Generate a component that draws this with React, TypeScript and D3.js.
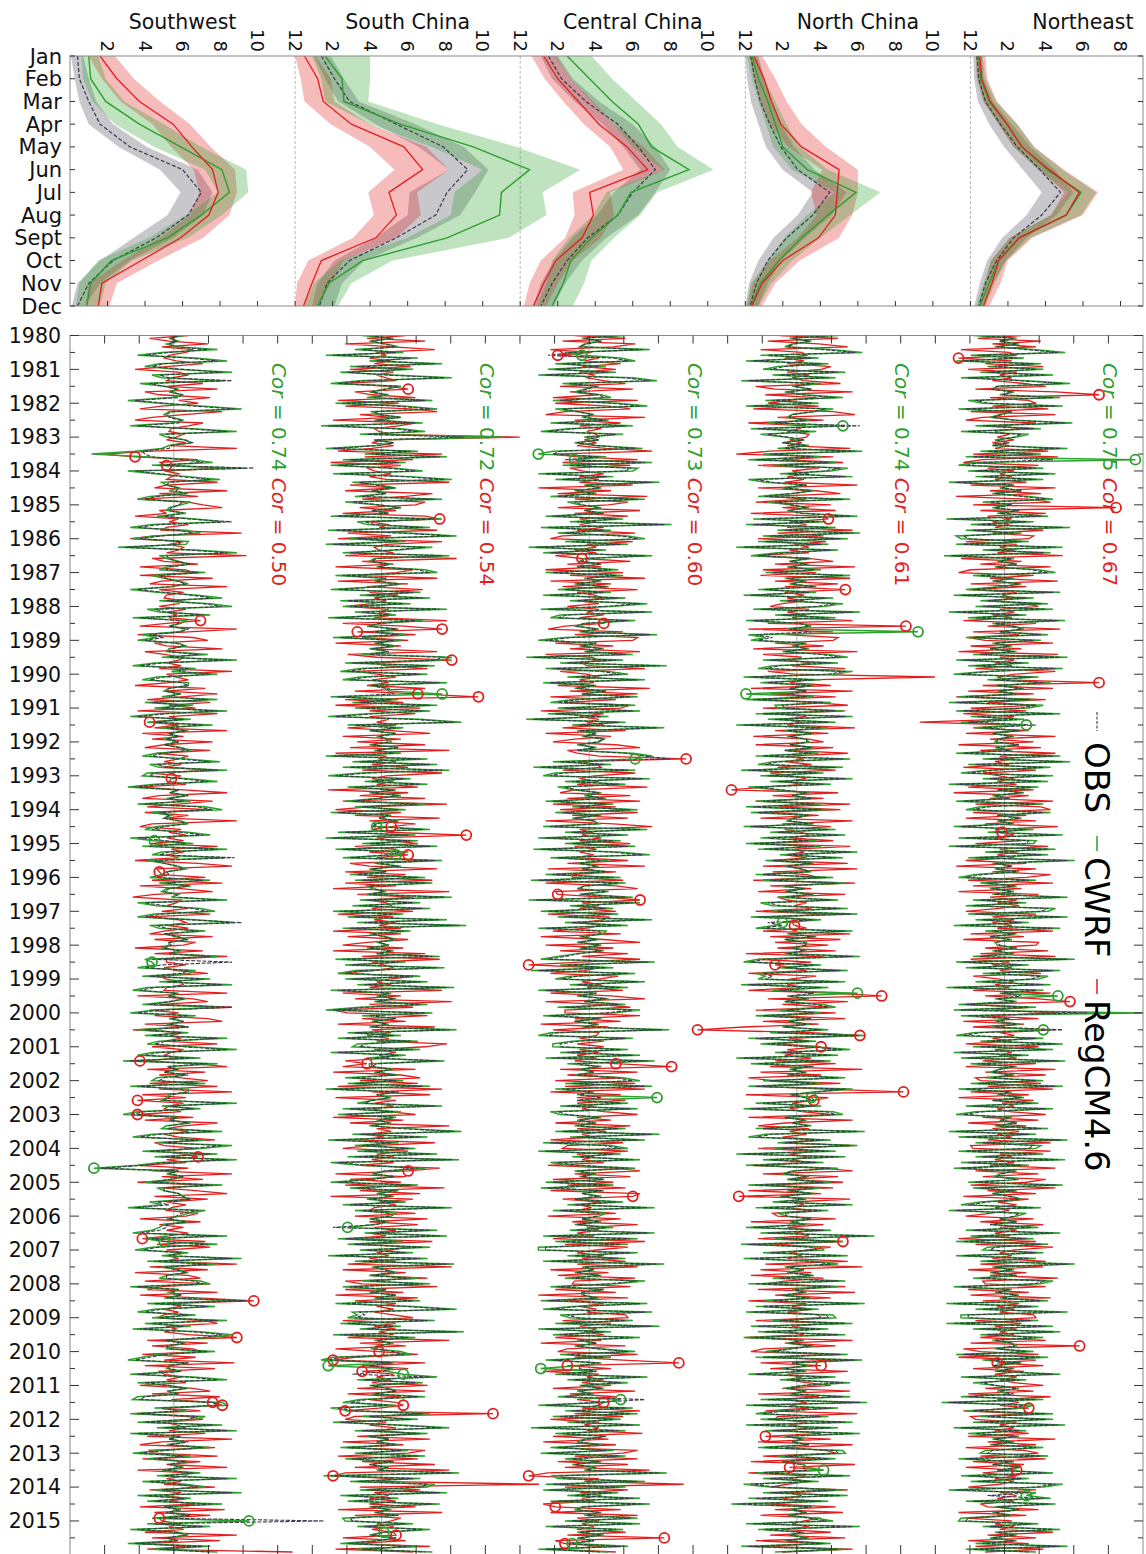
import React, { useEffect, useRef } from 'react';
import * as d3 from 'd3';

const W = 1146;
const H = 1554;

const months = ['Jan', 'Feb', 'Mar', 'Apr', 'May', 'Jun', 'Jul', 'Aug', 'Sept', 'Oct', 'Nov', 'Dec'];
const regions = ['Southwest', 'South China', 'Central China', 'North China', 'Northeast'];
const corCwrf = ['0.74', '0.72', '0.73', '0.74', '0.75'];
const corReg = ['0.50', '0.54', '0.60', '0.61', '0.67'];
const years = d3.range(1980, 2016);

// monthly climatology (mm/day): mean, lower and upper band, per region and model
const swObs = [0.4, 0.5, 1.0, 1.6, 3.2, 6.0, 7.0, 6.3, 4.6, 2.3, 1.0, 0.4];
const swObsLo = [0.05, 0.25, 0.5, 1.0, 2.6, 4.8, 5.9, 5.2, 3.4, 1.6, 0.4, 0.1];
const swObsHi = [0.7, 1.0, 1.4, 2.3, 4.1, 6.8, 7.6, 7.1, 5.5, 3.2, 1.6, 0.8];
const swCwrf = [1.0, 1.1, 1.9, 3.7, 5.9, 8.1, 8.5, 7.0, 5.2, 2.2, 1.1, 0.9];
const swCwrfLo = [0.6, 0.7, 1.2, 2.4, 4.5, 7.2, 7.9, 6.2, 4.2, 1.5, 0.5, 0.3];
const swCwrfHi = [1.5, 1.9, 2.9, 5.0, 7.0, 9.4, 9.5, 8.1, 6.3, 3.3, 1.9, 1.6];
const swReg = [1.6, 2.5, 3.7, 5.5, 6.5, 7.6, 7.9, 7.4, 5.9, 3.8, 1.7, 1.5];
const swRegLo = [1.0, 1.7, 2.7, 4.4, 5.4, 6.6, 6.9, 6.4, 4.8, 2.8, 1.0, 0.8];
const swRegHi = [2.4, 3.4, 4.8, 6.4, 7.5, 8.8, 8.9, 8.5, 7.1, 4.7, 2.5, 2.1];

const scObs = [1.4, 2.1, 2.9, 5.4, 7.9, 9.2, 8.1, 7.5, 5.4, 2.9, 1.7, 1.3];
const scObsLo = [1.0, 1.6, 2.3, 4.3, 6.6, 8.2, 6.1, 6.0, 4.3, 2.1, 1.2, 0.9];
const scObsHi = [1.9, 2.6, 3.4, 6.4, 9.0, 10.3, 9.6, 8.8, 6.5, 3.7, 2.5, 2.1];
const scCwrf = [1.6, 2.5, 2.6, 5.6, 9.5, 12.5, 11.0, 10.9, 8.1, 3.6, 1.8, 1.2];
const scCwrfLo = [0.9, 1.4, 1.6, 4.0, 7.3, 10.0, 8.5, 8.3, 6.0, 2.4, 1.0, 0.5];
const scCwrfHi = [4.0, 4.0, 3.9, 7.6, 11.8, 15.2, 13.2, 13.4, 11.4, 5.2, 3.0, 2.3];
const scReg = [0.5, 1.2, 1.5, 3.0, 5.8, 6.8, 5.0, 5.4, 4.3, 1.4, 0.9, 0.45];
const scRegLo = [0.0, 0.3, 0.5, 1.9, 4.0, 5.3, 3.9, 4.2, 3.1, 0.7, 0.1, 0.0];
const scRegHi = [1.1, 1.9, 2.1, 4.0, 7.0, 8.2, 6.5, 6.7, 5.4, 2.6, 1.9, 1.2];

const ccObs = [1.5, 2.2, 3.5, 5.2, 6.3, 7.2, 6.0, 5.2, 3.6, 2.5, 1.7, 1.1];
const ccObsLo = [1.1, 1.7, 2.9, 4.4, 5.5, 6.4, 5.0, 4.1, 2.8, 1.8, 1.1, 0.7];
const ccObsHi = [2.0, 2.8, 4.2, 6.0, 7.2, 8.0, 7.2, 6.3, 4.6, 3.3, 2.4, 1.8];
const ccCwrf = [2.5, 3.7, 4.9, 6.3, 7.0, 9.0, 5.9, 5.2, 3.8, 2.7, 2.3, 1.7];
const ccCwrfLo = [1.8, 2.7, 3.8, 5.0, 6.0, 7.6, 4.6, 3.9, 2.6, 1.7, 1.4, 0.9];
const ccCwrfHi = [3.8, 4.9, 6.2, 7.5, 8.4, 10.3, 7.3, 6.4, 5.0, 3.8, 3.4, 2.8];
const ccReg = [1.25, 2.0, 3.1, 4.2, 5.7, 6.8, 3.7, 3.9, 3.3, 1.9, 1.25, 0.7];
const ccRegLo = [0.6, 1.3, 2.3, 3.4, 4.8, 5.5, 2.8, 2.9, 2.4, 1.1, 0.5, 0.2];
const ccRegHi = [1.9, 2.7, 3.9, 5.0, 6.6, 7.7, 4.8, 5.0, 4.3, 2.8, 2.0, 1.4];

const ncObs = [0.3, 0.5, 0.8, 1.3, 1.9, 2.8, 4.5, 3.6, 2.2, 1.2, 0.6, 0.25];
const ncObsLo = [0.0, 0.1, 0.3, 0.7, 1.1, 2.0, 3.6, 2.8, 1.5, 0.7, 0.2, 0.0];
const ncObsHi = [0.7, 1.0, 1.4, 1.9, 2.6, 3.7, 5.4, 4.6, 3.2, 1.9, 1.2, 0.7];
const ncCwrf = [0.35, 0.7, 1.2, 1.6, 2.0, 3.3, 5.9, 4.4, 3.0, 1.8, 0.8, 0.3];
const ncCwrfLo = [0.1, 0.35, 0.7, 1.1, 1.5, 2.5, 4.8, 3.3, 2.1, 1.2, 0.3, 0.05];
const ncCwrfHi = [0.6, 1.0, 1.6, 2.2, 2.9, 4.4, 7.2, 5.6, 4.0, 2.5, 1.4, 0.7];
const ncReg = [0.45, 1.0, 1.4, 1.9, 3.0, 5.0, 4.9, 4.8, 3.9, 2.0, 0.9, 0.35];
const ncRegLo = [0.2, 0.5, 0.8, 1.3, 2.3, 4.1, 3.5, 3.8, 2.8, 1.3, 0.4, 0.1];
const ncRegHi = [0.9, 1.6, 2.2, 3.0, 4.3, 6.0, 6.0, 5.7, 5.0, 2.9, 1.6, 0.9];

const neObs = [0.35, 0.45, 0.8, 1.6, 2.5, 3.7, 4.8, 3.8, 2.3, 1.4, 0.8, 0.45];
const neObsLo = [0.15, 0.2, 0.4, 1.0, 1.8, 2.8, 3.8, 3.0, 1.7, 0.9, 0.5, 0.2];
const neObsHi = [0.6, 0.7, 1.2, 2.2, 3.2, 4.5, 5.5, 4.6, 3.0, 1.9, 1.2, 0.7];
const neCwrf = [0.45, 0.55, 1.0, 1.95, 2.75, 4.1, 5.9, 5.1, 2.6, 1.5, 1.0, 0.5];
const neCwrfLo = [0.3, 0.35, 0.7, 1.5, 2.3, 3.6, 5.2, 4.3, 2.1, 1.1, 0.7, 0.3];
const neCwrfHi = [0.65, 0.8, 1.4, 2.5, 3.4, 4.9, 6.7, 5.9, 3.2, 1.9, 1.3, 0.8];
const neReg = [0.5, 0.6, 1.05, 1.95, 2.75, 4.2, 5.8, 5.1, 2.6, 1.5, 1.15, 0.7];
const neRegLo = [0.3, 0.35, 0.7, 1.5, 2.3, 3.7, 5.0, 4.3, 2.1, 1.1, 0.8, 0.4];
const neRegHi = [0.8, 0.9, 1.4, 2.5, 3.4, 5.0, 6.8, 6.0, 3.3, 2.0, 1.6, 1.0];

// monthly anomalies Jan 1980 - Dec 2015, stored in steps of TS_UNIT mm/day (one row per year)
const TS_UNIT = 0.14;

const swObsTs = [
2,-1,1,-2,1,14,-2,-12,6,18,-4,-9,
4,20,-6,-2,24,-10,-4,1,-1,3,2,-16,
-3,8,25,-1,-3,-2,3,2,-15,5,22,-3,
-2,4,8,-1,-2,-13,-12,-9,4,12,-6,33,
-16,-5,3,15,-2,-3,2,1,5,-7,-12,4,
2,-1,-2,4,-4,6,24,-6,-15,2,8,-5,
-14,3,2,-20,6,22,-3,-2,1,7,-2,-3,
10,-6,-3,1,5,-2,-15,-4,7,16,-3,12,
20,-8,-3,12,-14,2,2,-2,6,3,-10,-4,
-12,1,4,-1,-2,10,-2,22,-5,-14,6,2,
15,-4,-10,3,6,-2,-3,2,-2,14,-9,5,
-5,18,-3,-15,4,-8,12,-3,5,-2,2,-3,
2,-4,2,6,-4,-10,2,15,-7,-3,18,-8,
-10,3,14,-5,-16,2,-2,6,-2,4,-12,10,
16,-6,-2,-4,2,5,-4,-9,3,12,-15,-3,
5,-10,18,-2,-6,25,-8,-4,1,4,-3,-2,
-7,12,-3,6,-2,-4,1,2,18,-12,-4,8,
14,-5,-12,6,28,-7,-3,10,-4,2,5,-2,
-1,-4,2,-2,15,-9,24,-5,-12,6,3,-10,
12,-3,20,-8,-14,1,-2,4,-2,-10,24,-5,
-15,6,-1,4,-2,6,-12,3,-9,18,-3,-8,
4,22,-6,-12,8,-18,14,-3,1,-4,6,-4,
-6,10,-15,3,5,-1,-2,-4,22,-2,8,-12,
-18,1,-1,6,-2,-2,16,-6,-14,10,-4,20,
8,-10,15,-5,22,-3,-12,-30,2,-2,4,-2,
-9,16,-4,-4,2,3,7,-7,-2,-16,10,3,
1,-2,5,-3,-3,-6,-14,18,-9,-4,14,-6,
-13,3,-2,24,-8,14,-4,1,5,-3,-3,8,
12,-15,2,-1,3,-3,30,-8,14,-5,-12,6,
-6,18,-9,4,-14,8,20,12,-3,4,-3,-2,
14,-4,-10,-16,6,-2,-2,3,-15,5,18,-12,
-2,5,-3,2,-12,-14,16,18,-5,2,-15,10,
6,-12,16,-4,22,-15,3,-2,6,-2,12,-3,
-14,4,-8,5,-2,3,-4,8,-4,22,-10,2,
10,-5,24,-12,4,-8,16,-4,2,-3,7,-6,
62,-8,12,-15,1,5,-3,2,-16,12,-6,15,
];
const swCwrfTs = [
4,-2,2,-3,1,18,-5,-15,9,22,-6,-12,
1,24,-9,-5,20,-14,-4,2,-2,4,-1,-19,
-6,11,28,-2,-4,-1,4,-1,-18,8,26,-6,
-3,5,7,-2,-5,-16,-34,-12,7,16,-9,29,
-19,-8,6,19,-5,-3,2,-2,6,-10,-15,7,
3,-2,-3,5,-7,9,20,-9,-18,5,11,-8,
-17,6,5,-23,9,26,-6,-3,2,6,-3,-6,
13,-9,-4,2,6,-1,-18,-7,10,20,-6,15,
24,-11,-6,15,-17,5,3,-2,5,2,-13,-7,
-15,2,5,-2,-3,14,-5,26,-8,-17,9,-1,
18,-7,-13,6,6,-2,-4,3,-5,18,-12,8,
-8,22,-6,-18,7,-11,16,-6,6,-2,1,-4,
2,-4,3,7,-7,-13,5,19,-10,-6,22,-11,
-13,6,18,-8,-19,2,-1,6,-3,7,-15,13,
20,-9,-1,-4,3,6,-7,-12,6,15,-18,-8,
8,-13,22,-5,-9,21,-11,-4,2,5,-3,-5,
-10,15,-6,7,-3,-5,2,-1,22,-15,-7,11,
17,-8,-15,9,24,-10,-6,13,-4,1,6,-2,
-2,-5,3,-1,18,-12,-9,-8,-15,9,6,-13,
15,-6,24,-11,-17,2,-2,5,-1,-13,20,-8,
-18,9,-2,4,-3,6,-15,6,-12,22,-6,-11,
7,26,-9,-15,11,-21,18,-2,2,-4,5,-7,
-9,13,-18,6,6,-2,-3,-5,26,-5,11,-15,
-21,2,-2,7,-3,-5,20,-9,-17,13,-7,24,
11,-13,18,-8,26,-6,-15,-33,2,-3,4,-1,
-12,20,-7,-4,2,4,6,-10,-5,-19,13,6,
2,-3,6,-4,-6,-9,-17,22,-12,-4,18,-9,
-16,6,-5,28,-11,17,-5,2,6,-3,-6,11,
15,-18,2,-2,3,-4,26,-11,17,-8,-15,9,
-9,22,-12,7,-17,11,24,15,-3,5,-2,-3,
17,-7,-13,-19,6,-2,-3,3,-18,8,22,-15,
-3,6,-2,2,-15,-17,20,22,-8,5,-18,13,
9,-15,20,-7,26,-18,2,-2,5,-3,15,-6,
-17,7,-11,6,-1,4,-5,11,-7,26,-13,5,
13,-8,28,-15,7,-11,20,-4,3,-2,6,-9,
31,-11,15,-18,2,6,-3,1,-19,15,-9,18,
];
const swRegTs = [
6,-10,-2,14,-5,8,5,-2,-4,1,12,-3,
-16,2,6,-1,-3,12,-3,18,-12,-6,15,2,
10,-5,-14,20,4,-9,-16,12,6,-1,-2,4,
1,-3,5,-2,26,-9,-29,-16,10,-6,-3,20,
-4,2,-1,-3,18,-3,-8,22,-6,10,-15,6,
12,20,-6,-3,-16,2,-2,6,-3,-5,28,-8,
-18,4,-2,4,2,-3,30,-9,-4,10,-14,5,
8,-14,16,-5,-10,22,-6,4,-3,-4,3,2,
-6,5,-3,1,-2,11,-3,-14,26,6,-15,8,
14,-8,-3,20,-12,-4,4,2,-3,3,-6,24,
-3,1,6,-2,-16,13,-4,18,3,-11,15,-2,
9,-15,18,-2,3,-10,2,-8,22,-13,4,-9,
16,-4,-12,15,-7,6,2,-4,3,-5,18,-10,
3,-1,-2,5,-15,4,22,-6,-13,16,2,-11,
15,-12,6,-3,26,-9,-14,3,-2,5,-3,4,
-10,18,-1,4,-3,2,-16,10,24,-7,-6,-5,
13,-9,20,-14,3,16,-8,-17,3,1,-3,6,
-5,15,-11,2,5,-3,6,-4,-10,16,-8,9,
4,-16,12,-8,22,-3,-3,5,-4,1,14,-6,
-3,3,4,-3,-4,22,-15,8,14,-6,24,-10,
2,-8,14,20,-12,6,-17,4,-1,3,-4,18,
-9,4,-1,-4,3,-14,8,22,-11,13,-6,3,
14,-10,18,-6,24,-13,5,-15,4,-2,-4,3,
-15,8,-12,18,4,-3,6,-4,2,17,-8,-4,
10,-6,4,10,-3,5,-15,6,-9,24,-5,12,
-15,13,-5,9,22,-8,14,-3,5,-1,-3,10,
5,-14,11,-6,4,-3,6,-2,-13,13,-7,15,
-3,5,-3,2,-4,26,-10,14,-16,6,11,-12,
15,-5,-11,18,-14,10,33,-2,3,-4,2,-4,
-7,12,18,-3,1,-4,6,26,-11,14,-9,8,
11,-13,9,-4,25,-12,17,-6,-4,3,-3,5,
-14,8,15,-9,19,-1,16,20,-3,11,-16,6,
12,-4,1,5,-2,13,-11,24,-5,-14,17,-10,
-8,18,-13,11,-3,22,-15,6,5,-3,3,-4,
17,-10,3,-4,6,-2,9,-14,21,-8,15,-6,
-5,3,-2,4,-12,26,-9,19,-14,6,-11,49,
];

const scObsTs = [
-5,4,-4,1,6,-8,6,-20,12,-2,22,-10,
10,-14,2,26,-6,-18,7,1,-4,2,-3,18,
-16,6,20,-3,-1,8,-2,14,-22,5,15,-6,
34,-3,5,-1,-20,12,-4,24,-13,7,-18,3,
14,-17,9,26,-9,-2,5,-4,2,-8,22,-12,
-1,8,-4,3,-18,22,-7,-3,17,-19,8,28,
-10,7,-20,18,4,-13,25,-2,-4,3,-1,15,
20,-16,2,-2,7,-1,-18,13,-6,17,-14,9,
-13,24,-8,3,-19,14,-1,-5,6,-3,7,-17,
5,-2,5,-4,3,-5,26,22,-12,19,-6,-14,
16,-6,-13,24,-4,2,3,5,-18,4,-9,20,
-8,17,-3,-19,13,30,-11,6,-4,6,-1,2,
3,-4,7,-2,5,-20,16,-9,20,-13,25,-6,
-19,9,-4,16,-11,5,-4,7,-1,-12,15,-8,
7,-18,3,-1,6,-2,-4,17,-15,11,-20,12,
-5,20,-16,8,3,-13,22,-2,7,-4,2,-10,
15,-8,18,-5,-3,1,-5,26,-6,13,-9,17,
-17,6,-11,24,-7,32,-13,9,-4,1,5,-1,
3,-5,4,-2,21,-16,7,-12,23,-8,-15,13,
-12,16,-7,27,-18,3,-1,5,-2,16,-6,-20,
18,-5,6,-3,2,-4,28,-11,5,-15,12,-7,
-9,13,-18,7,-3,23,-2,-4,4,-2,6,-12,
6,-11,17,-20,7,-2,3,-4,-7,22,-13,5,
-15,5,-1,3,-4,8,30,-9,16,-19,4,-8,
11,-7,20,-11,29,-18,-6,15,1,-3,5,-4,
-18,12,-10,6,-1,4,-5,7,-13,26,-8,3,
3,-4,2,-2,-20,20,-4,24,-15,6,-11,17,
-6,10,-19,16,-8,27,-3,1,5,-4,12,-5,
17,-13,2,-4,6,-2,13,-16,10,28,-9,-7,
-11,19,-14,5,-6,31,-17,11,-2,4,-1,-3,
5,9,-17,-22,4,-5,3,1,-12,20,-7,14,
-4,2,6,-3,15,-6,-13,3,-18,-10,17,-5,
12,-17,5,25,-8,16,-5,3,-2,6,-14,8,
-8,15,-12,5,-5,2,-1,29,-21,13,-10,19,
16,-6,24,-14,4,-11,21,-4,3,-2,7,-13,
-12,10,-7,17,1,-4,6,-1,-14,12,-8,18,
];
const scCwrfTs = [
-8,5,-5,2,7,-11,9,-23,15,-5,25,-13,
13,-17,5,29,-9,-21,8,2,-5,3,-6,21,
-19,9,23,-4,-2,8,-3,17,-25,8,18,-9,
50,-3,5,-2,-23,15,-7,27,-16,10,-21,6,
17,-20,12,29,-12,-1,6,-4,2,-11,25,-15,
-2,8,-4,3,-21,25,-10,-6,20,-22,11,31,
-13,10,-23,21,7,-16,28,-3,-5,4,-2,18,
23,-19,2,-3,8,-2,-21,16,-9,20,-17,12,
-16,27,-11,6,-22,17,-1,-6,7,-3,10,-20,
8,-3,6,-5,3,-8,29,25,-15,22,-9,-17,
19,-9,-16,27,-5,3,4,25,-21,7,-12,23,
-11,20,-6,-22,16,33,-14,9,-5,6,-2,3,
4,-5,7,-3,8,-23,19,-12,23,-16,28,-9,
-22,12,-7,19,-14,6,-5,8,-2,-15,18,-11,
10,-21,4,-1,7,-3,-2,20,-18,14,-23,15,
-8,23,-19,11,6,-16,25,-3,8,-5,2,-13,
18,-11,21,-6,-4,2,-6,29,-9,16,-12,20,
-20,9,-14,27,-10,35,-16,12,-5,2,6,-2,
3,-6,5,-2,24,-19,10,-15,26,-11,-18,16,
-15,19,-10,30,-21,4,-2,6,-3,19,-9,-23,
21,-8,6,-4,3,-5,31,-14,8,-18,15,-10,
-12,16,-21,10,-6,26,-5,-5,5,-3,7,-15,
9,-14,20,-23,7,-2,4,-4,-10,25,-16,8,
-18,6,-2,4,-5,11,33,-12,19,-22,7,-11,
14,-10,23,-14,32,-21,-9,18,2,-4,5,-5,
-21,15,-13,7,-2,5,-6,10,-16,29,-11,6,
4,-5,3,-3,-14,23,-7,27,-18,9,-14,20,
-9,13,-22,19,-11,30,-4,2,6,-5,15,-8,
20,-16,2,-5,6,-3,16,-19,13,31,-12,-10,
-14,22,-17,8,-9,34,-20,14,-3,5,-2,-4,
8,12,-20,-25,5,-22,4,2,9,23,-10,17,
-5,3,6,-4,18,-9,-16,6,-21,-13,20,-8,
15,-20,8,28,-11,19,-6,3,-2,7,-17,11,
-11,18,-15,5,-5,3,-2,32,-24,16,-13,22,
19,-9,27,-17,7,-14,24,-5,4,-3,7,-16,
-15,13,-10,20,1,-5,6,-2,-17,15,-11,21,
];
const scRegTs = [
10,-6,18,-15,5,22,-2,2,-5,4,-3,12,
-13,5,-2,2,6,-16,3,11,-11,-4,14,-18,
7,-15,12,23,-9,4,-20,14,7,-3,-1,4,
57,1,-4,5,-4,-18,25,-7,13,-21,8,-6,
-3,4,-5,2,28,-13,5,-15,21,10,-8,18,
14,-9,6,-16,18,24,-5,3,-1,23,-14,4,
-18,25,2,-3,-1,5,-15,31,-8,5,-19,13,
6,-10,23,-18,11,-6,17,-5,7,-3,2,-4,
-15,3,-1,5,-3,27,-16,9,25,-10,14,-8,
11,-19,8,-4,23,-14,-2,29,-4,2,19,-11,
-2,6,-4,3,-6,18,-11,15,40,-15,9,-19,
16,-5,14,-5,3,-2,6,-14,4,20,-16,8,
-10,18,-13,28,-19,2,-1,6,-4,11,-8,25,
2,-4,5,-2,15,-22,11,-9,18,-16,27,-5,
-19,8,-11,24,-5,14,4,-4,3,35,-2,4,
15,-11,6,-5,11,-2,19,-13,-5,23,-15,10,
-6,21,-15,6,-20,28,-10,13,-5,2,4,-4,
13,-18,5,-3,6,-1,8,-20,8,-14,11,-6,
-16,9,-20,18,-8,24,-4,1,5,-3,-18,15,
3,-2,4,-5,25,-16,8,-11,29,-5,13,-20,
-14,19,-8,10,-18,22,-4,4,-6,3,-2,27,
18,-3,6,-1,3,-15,-6,-16,14,-20,8,16,
-9,15,-18,25,-4,20,-19,6,-3,5,-4,3,
14,-20,9,-13,28,-2,4,-6,1,-10,22,-4,
-16,11,-2,5,-4,5,-9,24,11,-19,10,-13,
8,-15,26,-9,16,-21,13,-1,6,-3,-5,14,
-11,19,-5,15,-3,6,-5,2,-14,21,-6,11,
4,-2,3,-5,6,-14,29,-16,10,-5,19,-15,
-8,23,-15,9,-19,15,-11,6,-2,5,-3,5,
13,-16,6,-3,6,-1,5,-14,28,-9,10,-19,
-1,15,-11,-20,18,-8,11,-8,5,-2,4,-4,
19,-10,18,-14,8,-5,6,9,-1,-15,46,-11,
-15,2,-5,6,-1,14,-10,20,-16,9,-13,18,
11,-18,15,-8,22,-11,28,-15,-20,5,-2,65,
-9,16,-3,3,-5,6,-5,14,-18,25,-11,8,
4,-2,5,-4,5,6,-16,10,-11,20,-19,13,
];

const ccObsTs = [
12,-2,5,-1,-4,22,-7,-17,10,16,-11,4,
-14,8,-18,15,25,-8,3,-1,-5,4,6,-12,
9,21,-11,-4,1,-2,7,-13,15,-6,-17,11,
-1,4,-5,3,19,-12,-15,4,-10,23,-8,17,
15,-18,7,-11,26,-1,4,-5,2,-13,20,-6,
-3,4,-2,6,-15,11,-5,31,-17,6,-10,13,
20,-7,13,-22,4,-16,23,-1,-3,5,-5,9,
-15,11,-1,4,-5,7,-10,6,-16,12,-5,21,
6,-17,23,-9,-13,16,-2,-5,3,-3,25,-7,
-18,3,-3,5,-1,15,-23,11,-9,29,-15,5,
13,-6,20,-16,2,-5,7,-3,17,-4,-13,16,
-10,18,-14,5,-23,12,-4,28,-4,3,-2,6,
3,-4,2,-5,15,23,33,-12,6,-20,16,-11,
-16,22,-7,12,-10,-5,4,-1,6,-15,7,-4,
17,-11,4,-6,2,3,-16,21,-7,13,-18,10,
-7,16,-20,9,22,-13,5,-4,3,-3,7,-15,
10,-21,12,-2,-4,7,-3,15,-22,18,-5,7,
-17,9,-10,23,-7,13,-18,4,5,-3,3,-4,
4,-3,5,-4,-10,-17,24,-9,7,-21,16,-5,
-11,20,-5,13,-18,3,-4,7,-2,12,-10,18,
7,-16,4,-6,3,-2,30,-13,-18,15,-4,-12,
-12,13,-9,18,-15,24,-6,4,-3,2,-5,11,
18,-7,23,-11,1,-4,5,-5,13,-9,17,-13,
-9,4,-4,2,-5,12,-11,26,-5,20,-16,6,
13,-18,10,-4,18,-13,-5,16,-5,2,-3,6,
-15,7,-17,5,-3,4,-6,11,-6,24,-12,4,
3,-3,4,-5,7,-5,24,-16,17,-11,13,-18,
-18,17,-6,12,-16,28,-2,2,-5,4,-7,20,
8,-13,6,-3,-2,3,-17,21,-4,-16,23,-9,
-5,15,-11,26,-18,6,-12,18,-4,3,-5,3,
16,-9,6,-15,4,-4,-4,3,-11,21,-6,13,
-3,5,-4,1,-10,23,3,-18,15,-7,17,-12,
10,-6,18,-21,12,-11,7,-1,-4,4,-13,7,
-17,12,-7,4,-6,2,-1,29,-12,-10,20,-15,
12,-16,9,-6,18,-13,22,-2,-5,4,-1,17,
-7,18,-15,11,-4,5,-4,2,-10,13,-18,5,
];
const ccCwrfTs = [
15,-3,5,-2,-4,25,-10,-3,13,19,-14,7,
-17,11,-21,18,28,-11,4,-2,-6,5,9,-15,
12,24,-14,-5,2,-3,8,-16,18,-9,-20,14,
-2,4,-6,3,22,-15,-21,7,-6,26,-11,20,
18,-21,10,-14,29,-2,5,-6,3,-16,23,-9,
-4,5,-2,6,-18,14,-8,34,-20,9,-13,16,
23,-10,16,-25,7,-19,26,-2,-4,5,-5,12,
-18,14,-2,5,-6,8,-13,9,-19,15,-8,24,
9,-20,26,-12,-16,19,-2,-6,4,-4,28,-10,
-21,3,-4,6,-2,18,-26,14,-12,32,-18,8,
16,-9,23,-19,3,-6,7,-3,20,-7,-16,19,
-13,21,-17,8,-26,15,-7,31,-5,3,-3,6,
4,-5,3,-5,18,26,19,-15,9,-23,19,-14,
-19,25,-10,15,-13,-6,5,-2,7,-18,10,-7,
20,-14,5,-7,2,4,-19,24,-10,16,-21,13,
-10,19,-23,12,25,-16,8,-5,4,-3,7,-18,
13,-24,15,-2,-5,8,-4,18,-25,21,-8,10,
-20,12,-13,26,-10,16,-21,7,6,-4,4,-5,
5,-4,6,-5,-13,-20,27,-12,10,-24,19,-8,
-14,23,-8,16,-21,3,-5,8,-2,15,-13,21,
10,-19,5,-6,4,-3,33,-16,-21,18,-7,-15,
-15,16,-12,21,-18,27,-9,5,-4,2,-6,14,
21,-10,26,-14,2,-5,28,-5,16,-12,20,-16,
-12,5,-5,3,-6,15,-14,29,-8,23,-19,9,
16,-21,13,-7,21,-16,-8,19,-6,3,-4,6,
-18,10,-20,6,-3,5,-6,14,-9,27,-15,7,
4,-3,5,-6,10,-8,27,-19,20,-14,16,-21,
-21,20,-9,15,-19,31,-3,2,-6,5,-10,23,
11,-16,6,-3,-3,4,-20,24,-7,-19,26,-12,
-8,18,-14,29,-21,9,-15,21,-5,3,-6,4,
19,-12,9,-18,5,-5,-20,3,-14,24,-9,16,
-4,6,-5,2,-13,13,6,-21,18,-10,20,-15,
13,-9,21,-24,15,-14,7,-2,-5,5,-16,10,
-20,15,-10,5,-7,3,-2,32,-15,-13,23,-18,
15,-19,12,-9,21,-16,25,-3,-6,5,-2,20,
-10,21,-18,14,-5,6,-5,2,-7,16,-21,8,
];
const ccRegTs = [
-6,15,-11,19,10,-16,1,-13,4,-2,13,-3,
11,-4,2,-1,6,15,-12,18,-8,4,-15,20,
-14,8,17,-10,-18,23,-6,13,-4,5,-1,3,
4,-2,3,-5,7,26,-15,-5,20,-11,17,-8,
-3,6,-4,4,-4,18,-21,9,-13,24,-6,16,
8,-13,21,-6,16,-4,3,-4,6,-5,19,-11,
-16,18,-1,3,-6,3,-14,-3,17,-9,5,-18,
14,-8,23,-16,9,-11,20,-5,2,6,-4,4,
-9,4,-1,6,-4,8,6,-10,-17,14,-6,20,
18,-14,10,-8,21,-18,1,4,-3,-1,23,-12,
-1,4,-4,2,-13,25,-8,20,-16,11,-10,17,
13,-20,6,-4,4,-1,6,-11,15,-18,9,-6,
-15,11,21,-9,-5,4,40,-4,3,5,-11,19,
2,-4,4,-5,24,-6,-12,17,-9,21,-15,11,
-12,20,-7,16,-18,10,26,-4,1,-3,5,-4,
17,-6,3,-4,2,-6,16,-9,23,-17,11,-7,
-7,14,-18,11,20,-14,-13,6,21,-3,4,-4,
11,-17,8,6,-3,5,-1,-15,13,-20,6,21,
-18,10,-12,16,-3,21,-4,-25,4,-2,-16,12,
4,-3,5,-1,14,-16,9,23,-18,4,17,-10,
-10,21,-6,13,-20,8,-15,4,3,-4,6,-5,
6,-4,4,-5,3,-6,11,34,-12,20,-9,14,
-14,19,-10,23,-16,13,-5,15,-5,2,-3,6,
20,-5,9,-14,17,-5,7,-3,2,-16,14,-9,
-11,16,-5,2,-3,6,-17,10,21,-6,17,-15,
10,-9,15,-16,21,18,-11,5,-4,1,-5,11,
-17,13,-7,20,-1,4,-5,2,-15,23,-10,16,
3,-5,6,-3,15,-5,20,-16,8,-13,19,-6,
-7,17,-14,11,-21,16,-10,6,-4,3,-1,15,
16,-11,9,-4,3,-2,6,-14,5,-20,15,-9,
-13,20,-6,14,37,-9,9,-19,4,-1,6,-3,
9,-15,19,-8,11,-5,6,4,-3,21,-6,14,
-16,4,-2,4,-1,22,-15,8,-19,11,-14,20,
14,-6,20,-13,16,-10,25,-17,-25,4,-2,39,
-10,16,-4,5,-3,2,-19,-14,13,-16,20,-5,
4,-3,2,-5,15,-9,31,-14,-10,6,-15,11,
];

const ncObsTs = [
14,-2,5,-1,-4,11,24,-12,6,-18,10,-5,
-11,17,-7,13,-20,7,-1,6,-4,2,16,-10,
6,-18,12,6,-2,-3,4,-9,26,-16,5,-12,
-4,3,-6,4,-5,24,-11,7,-17,13,-7,18,
11,-4,20,-17,-10,4,-5,6,-2,-13,19,-9,
-2,4,-3,2,22,-15,9,-18,13,-5,23,-11,
18,-13,10,-22,14,-5,-16,5,-3,4,-3,7,
-10,19,-4,3,-2,7,-13,5,-19,12,-4,16,
8,-15,23,-6,13,-18,1,5,-3,6,-17,-10,
-16,3,-1,4,-5,10,18,-11,14,-7,-13,20,
13,-19,7,-12,6,-3,4,-4,4,-18,11,-6,
-5,16,-14,20,-9,13,-22,10,-4,6,-3,4,
4,-3,6,-5,6,-14,19,-7,-13,16,-20,8,
-12,20,-8,11,-17,-6,4,-2,6,-14,7,-18,
10,-16,5,-1,-3,6,-19,13,-8,17,-12,5,
-18,7,-13,22,-4,16,-10,6,-4,2,5,-14,
12,-11,17,-5,3,-4,6,-5,14,-12,-7,18,
-8,22,-16,7,-12,-6,-14,20,-3,7,-5,3,
4,-2,3,-4,23,-13,-19,7,-5,18,-14,-10,
-13,17,-20,10,-7,7,-3,4,-5,8,13,-4,
7,-14,6,-3,4,-5,10,-8,25,-17,5,-12,
4,19,-6,14,-22,11,-16,6,-2,3,-3,17,
-11,8,-17,20,8,-2,3,7,-14,7,-19,12,
16,-5,3,-2,5,-14,25,-10,-17,11,-5,22,
-6,13,-22,17,-11,8,-18,14,-1,-5,4,-3,
11,-17,7,-3,6,-6,3,-7,20,-14,10,-5,
-4,6,-2,3,-18,11,-12,29,-6,16,-20,7,
8,-11,18,-19,5,14,-4,3,-3,6,-7,17,
-17,14,-1,3,-6,5,-10,25,-14,6,-18,12,
13,-7,20,-16,10,-13,17,-19,2,-3,6,-2,
-10,18,-14,24,-2,4,-5,3,-17,13,-4,19,
2,-4,3,-2,19,-12,26,-18,14,-5,-14,10,
-12,20,-18,14,-10,23,-4,2,-2,5,-13,16,
17,-5,13,-6,2,3,4,-14,19,-11,6,-19,
-8,16,-11,18,-17,10,-24,6,-2,4,-3,5,
12,-18,23,-13,2,-3,4,-4,11,-20,17,-6,
];
const ncCwrfTs = [
17,-3,6,-2,-5,14,27,-15,9,-21,13,-8,
-14,20,-10,16,-23,10,-2,6,-5,3,19,-13,
9,-21,15,7,-2,-4,5,-12,19,-19,8,-15,
-5,3,-6,5,-8,27,-14,10,-20,16,-10,21,
14,-7,23,-20,-13,4,-6,7,-2,-16,22,-12,
-3,5,-4,2,25,-18,12,-21,16,-8,26,-14,
21,-16,13,-25,17,-8,-19,6,-3,5,-4,10,
-13,22,-5,4,-3,8,-16,8,-22,15,-7,19,
11,-18,26,-9,16,-21,2,6,-4,50,-20,-13,
-19,4,-2,5,-6,13,21,-14,17,-10,-16,23,
16,-22,10,-15,7,-3,4,-21,7,-21,14,-9,
-8,19,-17,23,-12,16,-25,13,-5,7,-4,4,
5,-3,7,-5,9,-17,22,-10,-16,19,-23,11,
-15,23,-11,14,-20,-7,5,-2,6,-17,10,-21,
13,-19,5,-2,-4,7,-22,16,-11,20,-15,8,
-21,10,-16,25,-7,19,-13,7,-5,2,6,-17,
15,-14,20,-6,3,-5,7,-8,17,-15,-10,21,
-11,25,-19,10,-6,-9,-17,23,-4,8,-5,4,
4,-2,4,-5,26,-16,-22,10,-8,21,-17,-13,
-16,20,-23,13,-10,25,-4,5,-5,11,16,-7,
10,-17,6,-4,5,-6,13,-11,28,-20,8,-15,
7,22,-9,17,-25,14,-19,7,-3,4,-4,20,
-14,11,-20,23,7,-3,6,7,-17,10,-22,15,
19,-5,4,-2,6,-17,28,-13,-20,14,-8,25,
-9,16,-25,20,-14,11,-21,17,-2,-6,5,-4,
14,-20,10,-4,7,-7,4,-10,23,-17,13,-8,
-4,6,-3,4,-21,14,-15,32,-9,19,-23,10,
11,-14,21,-22,8,17,-5,3,-4,7,-10,20,
-20,17,-2,4,-6,6,-13,28,-17,9,-21,15,
16,-10,23,-19,13,-16,20,-22,3,-4,7,-3,
-13,21,-17,27,-2,5,-6,4,-20,16,-7,22,
3,-5,4,-3,22,-15,29,-21,17,-8,-17,13,
-15,23,-21,17,-13,26,-5,3,-2,5,-16,19,
20,-8,16,-6,3,4,11,-17,22,-14,9,-22,
-11,19,-14,21,-20,13,-27,6,-3,4,-4,8,
15,-21,26,-16,3,-3,5,-5,14,-23,20,-9,
];
const ncRegTs = [
-7,17,-12,9,21,-15,2,4,-5,3,-4,14,
10,-4,5,-2,3,18,-17,-9,23,-13,8,-3,
-12,9,-18,15,24,-8,11,-20,4,1,-4,5,
4,-3,2,-4,22,-11,-25,15,-6,19,-16,9,
-2,5,-4,3,-5,25,-16,8,18,-12,4,-17,
14,-6,16,-19,9,13,-3,4,-4,23,-8,11,
-16,12,-1,5,-3,5,-18,5,15,-9,24,-14,
8,-15,22,-9,17,-5,20,-5,3,-4,3,-6,
-11,5,-4,4,-2,23,-12,45,-20,15,-5,17,
15,-9,11,-18,25,-14,2,-4,6,-2,20,-12,
-1,57,4,-3,14,-19,23,-11,16,-15,6,21,
-14,20,-8,4,-6,2,-4,24,-9,13,-18,5,
11,-17,15,-4,21,-4,3,-5,6,-8,16,-11,
-2,4,-5,2,-13,-27,17,-10,11,-17,22,-8,
18,-11,9,-15,23,-6,14,-5,2,5,-3,15,
-15,22,-1,3,-5,4,-9,21,-14,25,-10,4,
9,-18,24,-11,6,-16,20,-8,-4,4,-1,6,
-17,13,-10,5,-2,-1,4,-14,22,-11,18,-9,
13,-8,16,-21,11,-16,6,-9,-2,4,-20,8,
-3,6,-4,2,-20,14,35,-12,21,-6,15,-17,
16,-10,20,-14,9,-22,-41,6,26,-3,5,-8,
10,-4,2,-5,6,-9,16,-11,27,-15,10,-20,
-10,18,-15,11,44,-21,13,7,-2,5,-3,2,
14,-20,23,-5,-16,5,-3,4,-6,9,-6,24,
-16,8,-3,5,-2,4,-19,10,23,-14,17,-4,
19,-13,15,-20,10,-24,22,-2,3,-4,6,-10,
-8,16,-19,11,-4,6,-1,5,-16,19,-11,14,
4,-3,2,-4,21,-13,27,-15,6,-19,11,-5,
-13,20,-16,24,-9,14,-20,4,-2,6,-4,9,
10,-17,14,-2,5,-4,3,-21,23,-5,16,-14,
-19,11,-9,17,-15,10,-11,21,-4,2,-4,4,
14,-6,22,-16,9,-5,4,-3,5,-13,25,-8,
-9,4,-3,5,-4,10,-13,14,-16,23,-5,12,
16,-14,9,-19,24,-3,11,-20,4,-3,5,-4,
-11,21,-4,2,-6,6,-12,16,-9,19,-15,10,
3,-2,5,-6,14,-11,20,-17,10,-14,23,-6,
];

const neObsTs = [
-10,4,-2,5,-3,9,22,-11,5,-17,12,-4,
13,-7,17,-15,6,24,-3,-5,3,-1,20,-12,
-6,21,-16,3,-1,-5,4,25,-9,12,-15,7,
4,-3,1,-5,23,-7,12,-13,20,-10,-16,13,
-12,18,-9,13,-20,3,-1,7,-4,7,17,-6,
3,-4,6,-2,15,-21,9,-11,24,-13,4,-17,
-15,7,-17,21,-6,16,-22,3,-2,5,-3,11,
18,-10,3,-4,6,-1,-13,20,-18,9,-7,15,
-9,17,-20,6,-12,22,-4,3,7,-2,15,-13,
12,-4,2,-6,4,-10,23,-17,7,-12,21,-5,
-18,11,-4,16,-3,7,-2,5,-16,10,-20,13,
7,-17,20,-11,5,-15,13,-9,6,-5,3,-3,
-3,6,-3,2,-17,20,-6,24,-12,16,-4,-15,
17,-6,15,-20,11,-3,7,-4,2,-17,13,-7,
-13,16,-3,6,-2,3,-18,9,-4,21,-16,10,
9,-20,18,-5,15,-12,26,-4,3,-3,5,-9,
-16,10,-7,4,-5,3,-4,23,-10,6,-13,18,
15,-12,23,-9,7,-18,20,-5,4,-6,2,-3,
-2,5,-4,3,-10,26,-17,7,-13,20,-6,15,
11,-9,16,-21,13,-1,7,-3,4,-16,10,-18,
34,-15,2,-3,5,-4,24,-10,-17,13,-7,21,
-10,17,-18,7,-15,22,-11,4,-2,-5,3,-5,
13,-11,21,-16,2,-2,7,-5,11,-13,17,-9,
-17,2,-1,5,-3,15,-20,10,-16,23,-9,12,
10,-16,13,-9,22,-15,7,-18,4,-1,-3,5,
-12,21,-10,4,-5,2,6,-7,-15,12,-20,6,
4,-2,5,-6,11,-13,20,-11,9,-17,15,-4,
-6,13,-17,10,-7,26,-4,3,-5,5,-10,17,
12,-18,2,-3,5,-1,15,-21,11,-9,23,-15,
-15,11,-21,17,-10,20,-7,13,-4,3,4,-3,
9,-17,15,-6,6,-5,3,-3,20,-15,6,-10,
-3,5,-2,4,-15,13,-23,9,4,-13,17,-7,
17,-10,22,-18,6,-12,5,-4,3,-5,13,-5,
-7,15,-16,3,-5,6,-3,17,-15,7,-11,21,
13,-20,10,-7,16,-13,18,-3,6,-4,2,-15,
-16,11,-6,20,-3,4,-5,4,-9,23,-13,10,
];
const neCwrfTs = [
-13,5,-2,6,-4,12,25,-14,8,-20,15,-7,
16,-10,20,-18,9,27,-3,-5,4,-2,23,-15,
-9,24,-19,3,-2,-6,5,28,-12,15,-18,10,
5,-4,2,-5,26,-10,15,-16,54,-13,-19,16,
-15,21,-12,16,-23,4,-2,7,-5,10,20,-9,
3,-5,6,-3,18,-24,12,-14,27,-16,7,-20,
-18,10,-20,24,-9,19,-25,4,-3,5,-4,14,
21,-13,4,-5,7,-2,-16,23,-21,12,-10,18,
-12,20,-23,9,-15,25,-5,4,8,-2,18,-16,
15,-5,3,-6,5,-13,26,-20,10,-15,24,-8,
-21,14,-7,19,-4,8,-3,5,-19,13,-23,16,
10,-20,23,-14,8,-18,9,-12,6,-5,4,-3,
-4,6,-4,3,-20,23,-9,27,-15,19,-7,-18,
20,-9,18,-23,14,-3,8,-5,2,-20,16,-10,
-16,19,-3,7,-3,4,-21,12,-7,24,-19,13,
12,-23,21,-8,18,-15,29,-5,3,-4,6,-12,
-19,13,-10,5,-6,4,-5,26,-13,9,-16,21,
18,-15,26,-12,10,-21,23,-8,5,-6,3,-4,
-3,5,-5,4,-13,29,-20,10,-16,23,-9,18,
14,-12,19,-24,16,-2,22,-4,5,-19,13,-21,
57,-18,2,-4,6,-5,16,-13,-20,16,-10,24,
-13,20,-21,10,-18,25,-14,5,-2,-6,4,-8,
16,-14,24,-19,3,-3,8,-5,14,-16,20,-12,
-20,3,-2,5,-4,18,-23,13,-19,26,-12,15,
13,-19,16,-12,25,-18,10,-21,5,-2,-4,6,
-15,24,-13,5,-5,3,7,-10,-18,15,-23,9,
5,-2,5,-6,14,-16,23,-14,12,-20,18,-7,
-9,16,-20,13,-10,29,-5,4,-6,5,-13,20,
15,-21,3,-4,6,-2,18,-24,14,-12,26,-18,
-18,14,-24,20,-13,23,-10,16,-5,3,5,-4,
12,-20,18,-9,7,-5,4,-4,23,-18,9,-13,
-4,6,-3,2,-18,16,-26,12,7,-16,20,-10,
20,-13,25,-21,9,-15,6,-5,4,-6,16,-8,
-10,18,-19,4,-5,7,-3,20,-18,10,-14,24,
16,-23,13,9,19,-16,21,-4,6,-5,3,-18,
-19,14,-9,23,-4,5,-6,5,-12,26,-16,13,
];
const neRegTs = [
7,-11,15,-5,13,-18,2,5,-19,3,-8,16,
-15,5,-2,3,-5,8,17,-12,21,39,-6,10,
13,-5,18,-14,21,-9,-16,13,-2,6,-4,2,
-3,4,-5,2,-4,18,-13,22,-9,-17,14,-7,
4,-2,3,-4,9,-14,21,-6,15,-20,10,19,
-13,46,-10,17,-7,3,-5,2,-4,16,-5,12,
10,-16,5,-2,4,-3,24,-18,7,-10,19,-14,
-19,12,-6,22,-14,9,-15,5,-1,4,-5,8,
14,-2,4,-5,3,-17,13,-7,23,-13,6,-15,
-8,20,-14,7,-19,22,-2,4,-4,3,-12,21,
4,-3,2,39,-9,20,-15,12,-20,17,-7,13,
-14,9,-17,4,-2,-35,5,-13,10,-16,21,-6,
12,-19,15,-10,21,-2,4,-4,2,-17,13,-9,
-2,4,-3,5,-15,12,-21,10,-6,20,-12,15,
19,-13,9,-16,13,-8,22,-4,-1,4,-5,7,
-12,18,-2,5,-3,4,-16,9,-20,13,-5,19,
9,-15,20,-13,7,-19,14,-6,5,-3,6,-2,
-16,13,-5,4,-5,3,-3,20,-14,8,-17,14,
13,-8,18,-10,21,-14,2,-5,3,-2,15,-13,
-2,4,-4,2,-13,19,-8,14,27,-16,10,-5,
22,-10,14,-17,8,-13,20,-2,4,-5,3,-16,
14,-4,3,-2,5,-9,13,-16,21,-8,17,-12,
-10,15,-7,20,-14,10,-19,12,-1,4,-3,2,
17,-9,14,-15,9,-5,6,-3,3,-7,19,-14,
-13,19,-2,3,-4,4,-6,21,-12,14,-9,17,
9,-14,21,-7,13,-17,10,-3,5,-4,2,-6,
-16,12,-10,16,-2,5,-4,2,-19,13,-12,20,
4,-2,3,-5,17,-10,16,-15,9,-6,22,-9,
-8,17,-15,10,-14,19,-9,6,-3,4,-2,12,
13,-12,7,-4,5,-2,4,-10,17,-14,31,-17,
-10,14,-19,13,-3,16,-13,8,-4,5,-2,4,
16,-8,12,-15,19,-3,6,-2,10,-17,10,-14,
-12,5,-2,4,-4,10,-15,21,-7,13,-16,8,
14,-10,17,-13,8,-16,5,-9,5,-4,4,-2,
-15,13,-2,5,-3,4,-10,-7,14,-19,9,-16,
3,-4,4,-2,20,-7,13,-15,10,-12,16,-8,
];

// months (index from Jan 1980) that carry an open circle
const swRegCirc = [43, 46, 101, 137, 157, 190, 257, 271, 276, 291, 320, 342, 355, 378, 379, 419];
const swCwrfCirc = [179, 222, 295, 321, 420];
const scRegCirc = [19, 65, 104, 105, 115, 127, 128, 174, 177, 184, 258, 296, 360, 363, 367, 379, 381, 382, 404, 425];
const scCwrfCirc = [127, 174, 184, 316, 365, 368, 424];
const ccRegCirc = [7, 79, 102, 150, 198, 200, 223, 258, 259, 305, 364, 365, 378, 404, 415, 426, 428];
const ccCwrfCirc = [7, 42, 44, 150, 270, 366, 377, 428];
const ncRegCirc = [65, 90, 103, 161, 209, 223, 234, 246, 248, 252, 268, 271, 305, 321, 365, 390, 401];
const ncCwrfCirc = [32, 105, 127, 208, 233, 270, 402];
const neRegCirc = [8, 21, 61, 123, 176, 236, 358, 364, 380, 402];
const neCwrfCirc = [44, 138, 234, 246, 411];

const RED = '#e21f1f';
const GREEN = '#2ca02c';
const OBS_C = '#3a3a4c';
const FONT = 'DejaVu Sans, Verdana, sans-serif';

export default function App() {
  const svgRef = useRef<SVGSVGElement>(null);

  useEffect(() => {
    if (!svgRef.current) return;
    const svg = d3.select(svgRef.current);
    svg.selectAll('*').remove();

    const clim = [
      { obs: [swObs, swObsLo, swObsHi], cwrf: [swCwrf, swCwrfLo, swCwrfHi], reg: [swReg, swRegLo, swRegHi] },
      { obs: [scObs, scObsLo, scObsHi], cwrf: [scCwrf, scCwrfLo, scCwrfHi], reg: [scReg, scRegLo, scRegHi] },
      { obs: [ccObs, ccObsLo, ccObsHi], cwrf: [ccCwrf, ccCwrfLo, ccCwrfHi], reg: [ccReg, ccRegLo, ccRegHi] },
      { obs: [ncObs, ncObsLo, ncObsHi], cwrf: [ncCwrf, ncCwrfLo, ncCwrfHi], reg: [ncReg, ncRegLo, ncRegHi] },
      { obs: [neObs, neObsLo, neObsHi], cwrf: [neCwrf, neCwrfLo, neCwrfHi], reg: [neReg, neRegLo, neRegHi] },
    ];
    const ts = [
      { obs: swObsTs, cwrf: swCwrfTs, reg: swRegTs, rc: swRegCirc, gc: swCwrfCirc },
      { obs: scObsTs, cwrf: scCwrfTs, reg: scRegTs, rc: scRegCirc, gc: scCwrfCirc },
      { obs: ccObsTs, cwrf: ccCwrfTs, reg: ccRegTs, rc: ccRegCirc, gc: ccCwrfCirc },
      { obs: ncObsTs, cwrf: ncCwrfTs, reg: ncRegTs, rc: ncRegCirc, gc: ncCwrfCirc },
      { obs: neObsTs, cwrf: neCwrfTs, reg: neRegTs, rc: neRegCirc, gc: neCwrfCirc },
    ];

    const L = 70, R = 1143;
    const topT = 56, topB = 306;
    const botT = 335.5, botB = 1552;

    const defs = svg.append('defs');
    defs.append('clipPath').attr('id', 'clipTop').append('rect')
      .attr('x', L).attr('y', topT).attr('width', R - L).attr('height', topB - topT);
    defs.append('clipPath').attr('id', 'clipBot').append('rect')
      .attr('x', L).attr('y', botT).attr('width', R - L).attr('height', H - botT);

    // ---------- top panel: seasonal cycle ----------
    const topX = d3.scaleLinear().domain([0, 57.2]).range([L, R]);
    const topY = d3.scaleLinear().domain([0, 11]).range([topT, topB]);

    const gTop = svg.append('g').attr('clip-path', 'url(#clipTop)');
    [12, 24, 36, 48].forEach(v => {
      gTop.append('line').attr('x1', topX(v)).attr('x2', topX(v)).attr('y1', topT).attr('y2', topB)
        .attr('stroke', '#b0b0b0').attr('stroke-width', 0.9).attr('stroke-dasharray', '3,2');
    });

    const band = (lo: number[], hi: number[], off: number) =>
      d3.area<number>()
        .y((_, k) => topY(k))
        .x0((_, k) => topX(lo[k] + off))
        .x1((_, k) => topX(hi[k] + off))(lo);
    const curve = (m: number[], off: number) =>
      d3.line<number>().x(v => topX(v + off)).y((_, k) => topY(k))(m);

    clim.forEach((c, i) => {
      const off = 12 * i;
      gTop.append('path').attr('d', band(c.obs[1], c.obs[2], off)).attr('fill', '#6c6c7a').attr('fill-opacity', 0.38);
      gTop.append('path').attr('d', band(c.reg[1], c.reg[2], off)).attr('fill', RED).attr('fill-opacity', 0.3);
      gTop.append('path').attr('d', band(c.cwrf[1], c.cwrf[2], off)).attr('fill', GREEN).attr('fill-opacity', 0.3);
    });
    clim.forEach((c, i) => {
      const off = 12 * i;
      gTop.append('path').attr('d', curve(c.obs[0], off)).attr('fill', 'none')
        .attr('stroke', OBS_C).attr('stroke-width', 1.2).attr('stroke-dasharray', '4,2');
      gTop.append('path').attr('d', curve(c.cwrf[0], off)).attr('fill', 'none')
        .attr('stroke', GREEN).attr('stroke-width', 1.4);
      gTop.append('path').attr('d', curve(c.reg[0], off)).attr('fill', 'none')
        .attr('stroke', RED).attr('stroke-width', 1.3);
    });

    svg.append('rect').attr('x', L).attr('y', topT).attr('width', R - L).attr('height', topB - topT)
      .attr('fill', 'none').attr('stroke', '#8a8a8a').attr('stroke-width', 1);

    d3.range(2, 57, 2).forEach(t => {
      svg.append('line').attr('x1', topX(t)).attr('x2', topX(t)).attr('y1', topB).attr('y2', topB - 5)
        .attr('stroke', '#333').attr('stroke-width', 1);
      svg.append('text')
        .attr('transform', `translate(${topX(t)},52) rotate(90)`)
        .attr('text-anchor', 'end').attr('dominant-baseline', 'central')
        .attr('font-family', FONT).attr('font-size', 18).attr('fill', '#111')
        .text(t % 12 === 0 ? '12' : String(t % 12));
    });
    months.forEach((m, k) => {
      const y = topY(k);
      svg.append('line').attr('x1', L).attr('x2', L + 5).attr('y1', y).attr('y2', y).attr('stroke', '#333');
      svg.append('line').attr('x1', R).attr('x2', R - 5).attr('y1', y).attr('y2', y).attr('stroke', '#333');
      svg.append('text').attr('x', 62).attr('y', y).attr('dy', '0.36em').attr('text-anchor', 'end')
        .attr('font-family', FONT).attr('font-size', 21).attr('fill', '#111').text(m);
    });
    regions.forEach((r, i) => {
      svg.append('text').attr('x', topX(6 + 12 * i)).attr('y', 29).attr('text-anchor', 'middle')
        .attr('font-family', FONT).attr('font-size', 20.5).attr('fill', '#111').text(r);
    });

    // ---------- bottom panel: monthly anomalies ----------
    const botX = d3.scaleLinear().domain([0, 62]).range([L, R]);
    const botY = d3.scaleLinear().domain([0, 431]).range([botT, botB]);

    const gBot = svg.append('g').attr('clip-path', 'url(#clipBot)');
    ts.forEach((_, i) => {
      const cx = botX(6 + 12 * i);
      gBot.append('line').attr('x1', cx).attr('x2', cx).attr('y1', botT).attr('y2', H)
        .attr('stroke', '#9a9a9a').attr('stroke-width', 0.8);
    });

    const series = (vals: number[], c: number) =>
      d3.line<number>().x(v => botX(c + v * TS_UNIT)).y((_, k) => botY(k))(vals);

    ts.forEach((s, i) => {
      const c = 6 + 12 * i;
      gBot.append('path').attr('d', series(s.reg, c)).attr('fill', 'none')
        .attr('stroke', RED).attr('stroke-width', 1.3);
      gBot.append('path').attr('d', series(s.cwrf, c)).attr('fill', 'none')
        .attr('stroke', GREEN).attr('stroke-width', 1.5);
      gBot.append('path').attr('d', series(s.obs, c)).attr('fill', 'none')
        .attr('stroke', OBS_C).attr('stroke-width', 1.1).attr('stroke-dasharray', '4,1.6');
    });
    ts.forEach((s, i) => {
      const c = 6 + 12 * i;
      s.rc.forEach(k => {
        gBot.append('circle').attr('cx', botX(c + s.reg[k] * TS_UNIT)).attr('cy', botY(k)).attr('r', 5)
          .attr('fill', 'none').attr('stroke', RED).attr('stroke-width', 1.8);
      });
      s.gc.forEach(k => {
        gBot.append('circle').attr('cx', botX(c + s.cwrf[k] * TS_UNIT)).attr('cy', botY(k)).attr('r', 5)
          .attr('fill', 'none').attr('stroke', GREEN).attr('stroke-width', 1.8);
      });
    });

    svg.append('rect').attr('x', L).attr('y', botT).attr('width', R - L).attr('height', H - botT + 4)
      .attr('fill', 'none').attr('stroke', '#8a8a8a').attr('stroke-width', 1);

    d3.range(2, 62, 2).forEach(t => {
      const x = botX(t);
      svg.append('line').attr('x1', x).attr('x2', x).attr('y1', botT).attr('y2', botT + 8).attr('stroke', '#333');
      svg.append('line').attr('x1', x).attr('x2', x).attr('y1', H).attr('y2', H - 9).attr('stroke', '#333');
    });
    years.forEach((yr, j) => {
      const y = botY(12 * j);
      const yh = botY(12 * j + 6);
      svg.append('line').attr('x1', L).attr('x2', L + 9).attr('y1', y).attr('y2', y).attr('stroke', '#333');
      svg.append('line').attr('x1', R).attr('x2', R - 9).attr('y1', y).attr('y2', y).attr('stroke', '#333');
      svg.append('line').attr('x1', L).attr('x2', L + 5).attr('y1', yh).attr('y2', yh).attr('stroke', '#333');
      svg.append('line').attr('x1', R).attr('x2', R - 5).attr('y1', yh).attr('y2', yh).attr('stroke', '#333');
      svg.append('text').attr('x', 61).attr('y', y).attr('dy', '0.36em').attr('text-anchor', 'end')
        .attr('font-family', FONT).attr('font-size', 20.5).attr('fill', '#111').text(String(yr));
    });

    // correlation labels
    regions.forEach((_, i) => {
      const t = svg.append('text')
        .attr('transform', `translate(${botX(12.1 + 12 * i)},363) rotate(90)`)
        .attr('dominant-baseline', 'central')
        .attr('font-family', FONT).attr('font-size', 20);
      t.append('tspan').attr('fill', GREEN).attr('font-style', 'italic').text('Cor');
      t.append('tspan').attr('fill', GREEN).text(` = ${corCwrf[i]} `);
      t.append('tspan').attr('fill', RED).attr('font-style', 'italic').text('Cor');
      t.append('tspan').attr('fill', RED).text(` = ${corReg[i]}`);
    });

    // legend
    const lx = 1097;
    svg.append('line').attr('x1', lx).attr('x2', lx).attr('y1', 712).attr('y2', 731)
      .attr('stroke', OBS_C).attr('stroke-width', 1.1).attr('stroke-dasharray', '3,1.5');
    svg.append('line').attr('x1', lx).attr('x2', lx).attr('y1', 836).attr('y2', 851)
      .attr('stroke', GREEN).attr('stroke-width', 1.5);
    svg.append('line').attr('x1', lx).attr('x2', lx).attr('y1', 979).attr('y2', 994)
      .attr('stroke', RED).attr('stroke-width', 1.5);
    [['OBS', 742], ['CWRF', 857], ['RegCM4.6', 1000]].forEach(([txt, y]) => {
      svg.append('text').attr('transform', `translate(${lx},${y}) rotate(90)`)
        .attr('dominant-baseline', 'central').attr('font-family', FONT).attr('font-size', 34)
        .attr('fill', '#000').text(txt as string);
    });
  }, []);

  return (
    <svg
      ref={svgRef}
      width={W}
      height={H}
      viewBox={`0 0 ${W} ${H}`}
      style={{ position: 'absolute', left: 0, top: 0, background: '#fff', display: 'block' }}
    />
  );
}
